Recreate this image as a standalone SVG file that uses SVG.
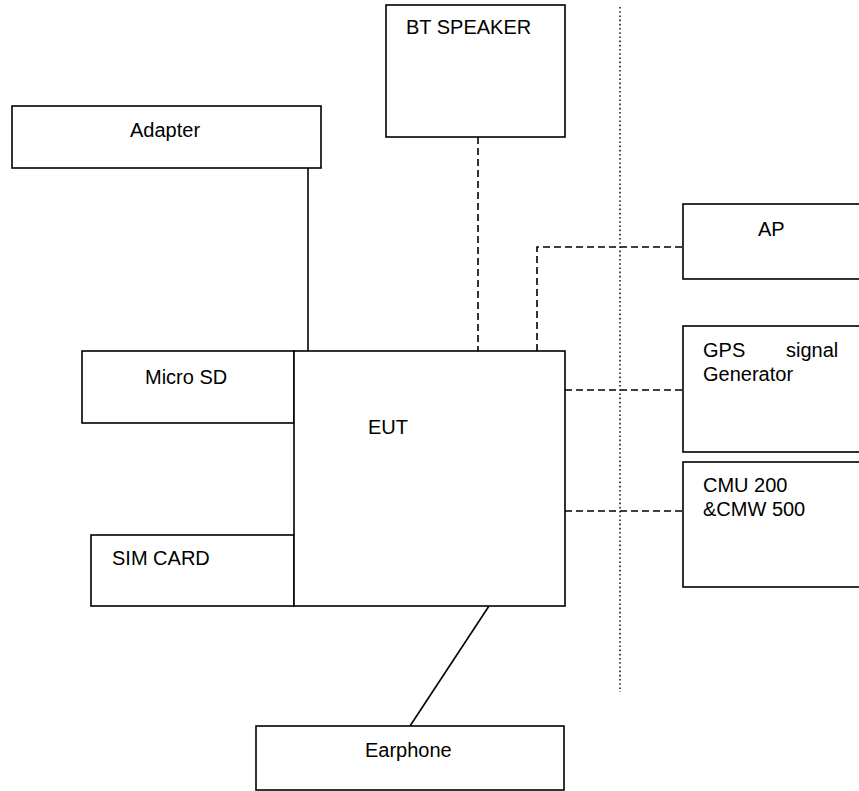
<svg xmlns="http://www.w3.org/2000/svg" width="859" height="791" viewBox="0 0 859 791">
<style>
.box{fill:#fff;stroke:#000;stroke-width:1.6}
.lbl{font-family:"Liberation Sans",Arial,sans-serif;font-size:20px;fill:#000}
.solid{stroke:#000;stroke-width:1.6;fill:none}
.dash{stroke:#000;stroke-width:1.6;fill:none;stroke-dasharray:7 4}
.dot{stroke:#000;stroke-width:1.4;fill:none;stroke-dasharray:1.6 2.6}
</style>
<rect width="859" height="791" fill="#fff"/>
<g id="connectors">
<line class="dot" x1="620" y1="7" x2="620" y2="692"/>
<line class="solid" x1="308" y1="168" x2="308" y2="351"/>
<line class="dash" x1="478" y1="137" x2="478" y2="351"/>
<polyline class="dash" points="537,351 537,247 683,247"/>
<line class="dash" x1="565" y1="390" x2="683" y2="390"/>
<line class="dash" x1="565" y1="511" x2="683" y2="511"/>
<line class="solid" x1="489" y1="606" x2="410" y2="726"/>
</g>
<g id="bt-speaker">
<rect class="box" x="386" y="5" width="179" height="132"/>
<text class="lbl" x="406" y="34">BT SPEAKER</text>
</g>
<g id="adapter">
<rect class="box" x="12" y="106" width="309" height="62"/>
<text class="lbl" x="130" y="137">Adapter</text>
</g>
<g id="ap">
<rect class="box" x="683" y="204" width="190" height="75"/>
<text class="lbl" x="758" y="236">AP</text>
</g>
<g id="micro-sd">
<rect class="box" x="82" y="351" width="212" height="72"/>
<text class="lbl" x="145" y="384">Micro SD</text>
</g>
<g id="sim-card">
<rect class="box" x="91" y="535" width="203" height="71"/>
<text class="lbl" x="112" y="565">SIM CARD</text>
</g>
<g id="eut">
<rect class="box" x="294" y="351" width="271" height="255"/>
<text class="lbl" x="368" y="434">EUT</text>
</g>
<g id="gps">
<rect class="box" x="683" y="326" width="190" height="126"/>
<text class="lbl" x="703" y="357">GPS</text>
<text class="lbl" x="786" y="357">signal</text>
<text class="lbl" x="703" y="381">Generator</text>
</g>
<g id="cmu">
<rect class="box" x="683" y="462" width="190" height="125"/>
<text class="lbl" x="703" y="492">CMU 200</text>
<text class="lbl" x="703" y="516">&amp;CMW 500</text>
</g>
<g id="earphone">
<rect class="box" x="256" y="726" width="308" height="64"/>
<text class="lbl" x="365" y="757">Earphone</text>
</g>
</svg>
